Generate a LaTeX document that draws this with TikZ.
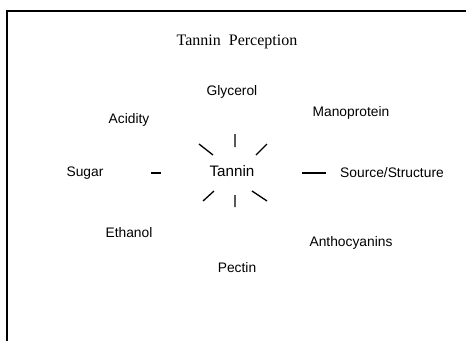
\documentclass[tikz,border=0pt]{standalone}
\usepackage{fontspec}
\setmainfont{Liberation Sans}
\newfontfamily\titlefont{Liberation Serif}

\begin{document}
\begin{tikzpicture}[x=1pt, y=-1pt, font=\fontsize{13.8}{16}\selectfont, line width=1.3pt]
\useasboundingbox (0,0) rectangle (466,341);
\draw[line width=2.2pt] (7,341) -- (7,11) -- (466,11);
\node (title) at (237,42) {\titlefont\fontsize{16}{18}\selectfont Tannin\ \ Perception};
\node (tannin) at (232,171) {\fontsize{15.2}{18}\selectfont Tannin};
\foreach \x/\y/\name/\txt in {232/92/glycerol/Glycerol, 351/113/manoprotein/Manoprotein,
  129/120/acidity/Acidity, 85/173/sugar/Sugar, 392/173/source/{Source/Structure},
  129/233/ethanol/Ethanol, 351/243/anthocyanins/Anthocyanins, 237/268/pectin/Pectin}
  \node (\name) at (\x,\y) {\txt};
\draw (235,134)--(235,147) (235,195)--(235,207) (199,144)--(213,155) (256,155)--(267,144)
  (203,201)--(214,191) (252,191)--(267,201);
\draw (151,173)--(161,173) (302,173)--(326,173);
\end{tikzpicture}
\end{document}
